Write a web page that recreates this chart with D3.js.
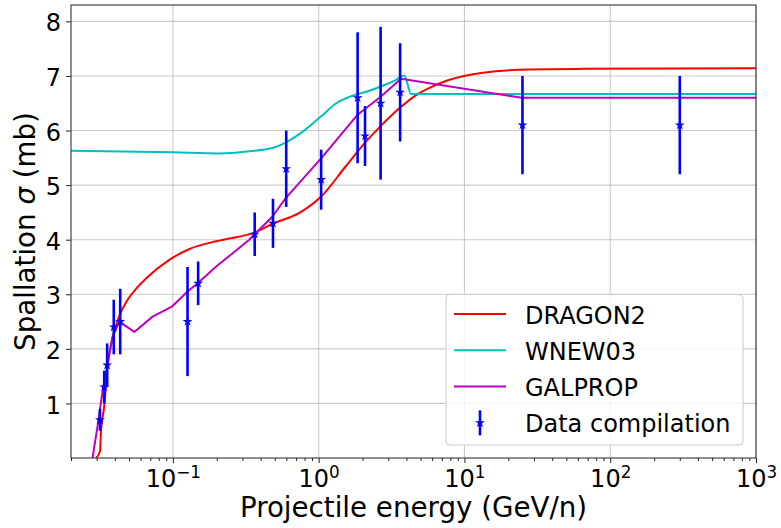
<!DOCTYPE html>
<html>
<head>
<meta charset="utf-8">
<script src="https://cdn.jsdelivr.net/npm/d3@7"></script>
<style>
  body { margin: 0; background: #fff; }
  svg { font-family: "DejaVu Sans", sans-serif; }
</style>
</head>
<body>
<svg id="chart" width="781" height="528"></svg>
<script>
"use strict";

// model curves (energy in GeV/n, sigma in mb)
var dragonE = [0.0297, 0.0316, 0.0321, 0.0338, 0.0356, 0.0386, 0.0424, 0.0489, 0.0572, 0.0654, 0.0945, 0.13, 0.198, 0.244, 0.362, 0.481, 0.737, 1.04, 1.54, 2.12, 2.66, 3.62, 4.66, 6.06, 7.89, 13.4, 27.9, 64.5, 1000];
var dragonS = [0, 0.12, 0.46, 0.95, 1.68, 2.2, 2.57, 2.9, 3.13, 3.29, 3.63, 3.83, 3.97, 4.02, 4.13, 4.29, 4.49, 4.79, 5.35, 5.80, 6.08, 6.42, 6.65, 6.81, 6.93, 7.06, 7.12, 7.13, 7.14];

var wnewE = [0.02, 0.1, 0.208, 0.334, 0.481, 0.594, 0.777, 1.04, 1.32, 1.71, 2.12, 2.75, 3.40, 3.87, 4.31, 1000];
var wnewS = [5.63, 5.60, 5.58, 5.62, 5.68, 5.78, 5.98, 6.26, 6.50, 6.64, 6.71, 6.82, 6.93, 7.01, 6.67, 6.67];

var galpropE = [0.0281, 0.0304, 0.0333, 0.0356, 0.0386, 0.0429, 0.0543, 0.0726, 0.099, 0.125, 0.152, 0.198, 0.257, 0.334, 0.481, 0.594, 1.04, 1.85, 2.66, 3.68, 24.7, 1000];
var galpropS = [0, 0.58, 1.31, 1.71, 2.23, 2.50, 2.31, 2.59, 2.78, 3.04, 3.23, 3.51, 3.75, 4.0, 4.42, 4.76, 5.49, 6.29, 6.62, 6.95, 6.60, 6.60];

// data compilation with symmetric errors
var dataE = [0.0316, 0.0338, 0.0354, 0.0393, 0.0435, 0.126, 0.149, 0.364, 0.486, 0.599, 1.04, 1.85, 2.08, 2.66, 3.62, 25, 300];
var dataS = [0.7, 1.3, 1.7, 2.4, 2.5, 2.5, 3.2, 4.1, 4.3, 5.3, 5.1, 6.6, 5.9, 6.5, 6.7, 6.1, 6.1];
var dataErr = [0.2, 0.3, 0.4, 0.5, 0.6, 1.0, 0.4, 0.4, 0.45, 0.7, 0.55, 1.2, 0.55, 1.4, 0.9, 0.9, 0.9];

var xMajor = [0.1, 1, 10, 100, 1000];
var xExp = ["\u22121", "0", "1", "2", "3"];
var yTicks = [1, 2, 3, 4, 5, 6, 7, 8];
var seriesNames = ["DRAGON2", "WNEW03", "GALPROP", "Data compilation"];
var seriesColors = ["#ff0000", "#00bfbf", "#bf00bf", "#0000ff"];

var svg = d3.select("#chart");
var mLeft = 71, mRight = 756, mTop = 5, mBottom = 458;

var x = d3.scaleLog().domain([0.02, 1000]).range([mLeft, mRight]);
var y = d3.scaleLinear().domain([0, 8.3]).range([mBottom, mTop]);

// minor ticks 2..9 of every decade inside the domain
var xMinor = [];
[0.01, 0.1, 1, 10, 100].forEach(function(d) {
    for (var k = 2; k <= 9; k++) {
        var v = d * k;
        if (v >= 0.02 && v <= 1000) xMinor.push(v);
    }
});

// grid
var grid = svg.append("g").attr("stroke", "#b0b0b0").attr("stroke-opacity", 0.65).attr("stroke-width", 1.1);
grid.selectAll(".gx").data(xMajor).enter().append("line")
    .attr("x1", d => x(d)).attr("x2", d => x(d)).attr("y1", mTop).attr("y2", mBottom);
grid.selectAll(".gy").data(yTicks).enter().append("line")
    .attr("x1", mLeft).attr("x2", mRight).attr("y1", d => y(d)).attr("y2", d => y(d));

svg.append("clipPath").attr("id", "plotClip").append("rect")
    .attr("x", mLeft).attr("y", mTop).attr("width", mRight - mLeft).attr("height", mBottom - mTop);

var plot = svg.append("g").attr("clip-path", "url(#plotClip)");

function drawCurve(es, ss, color, curve) {
    var line = d3.line().x(d => x(d[0])).y(d => y(d[1])).curve(curve);
    plot.append("path")
        .datum(d3.zip(es, ss))
        .attr("d", line)
        .attr("fill", "none")
        .attr("stroke", color)
        .attr("stroke-width", 2)
        .attr("stroke-linejoin", "round");
}

drawCurve(dragonE, dragonS, seriesColors[0], d3.curveMonotoneX);
drawCurve(wnewE, wnewS, seriesColors[1], d3.curveMonotoneX);
drawCurve(galpropE, galpropS, seriesColors[2], d3.curveLinear);

// error bars + star markers
var star = d3.symbol().type(d3.symbolStar).size(30);
var pts = plot.selectAll(".pt").data(d3.range(dataE.length)).enter().append("g");
pts.append("line")
    .attr("x1", i => x(dataE[i])).attr("x2", i => x(dataE[i]))
    .attr("y1", i => y(dataS[i] - dataErr[i])).attr("y2", i => y(dataS[i] + dataErr[i]))
    .attr("stroke", seriesColors[3]).attr("stroke-width", 2.6);
pts.append("path")
    .attr("d", star)
    .attr("transform", i => "translate(" + x(dataE[i]) + "," + y(dataS[i]) + ")")
    .attr("fill", seriesColors[3]);

// axes
var xAxis = svg.append("g").attr("transform", "translate(0," + mBottom + ")")
    .call(d3.axisBottom(x).tickValues(xMajor).tickSize(5).tickPadding(6).tickFormat(""));
svg.append("g").attr("transform", "translate(0," + mBottom + ")")
    .call(d3.axisBottom(x).tickValues(xMinor).tickSize(3).tickFormat(""))
    .call(g => g.select(".domain").remove());

xAxis.selectAll(".tick text").each(function(d, i) {
    var t = d3.select(this)
        .attr("y", 28.5).attr("dy", null)
        .attr("font-size", 24).attr("fill", "#000")
        .attr("font-family", "DejaVu Sans");
    t.append("tspan").text("10");
    t.append("tspan").attr("font-size", 16.8).attr("dy", -9).text(xExp[i]);
});

var yAxis = svg.append("g").attr("transform", "translate(" + mLeft + ",0)")
    .call(d3.axisLeft(y).tickValues(yTicks).tickSize(5).tickPadding(5));
yAxis.selectAll(".tick text")
    .attr("font-size", 24).attr("font-family", "DejaVu Sans")
    .attr("fill", "#000").attr("dy", "0.4em");

svg.selectAll(".domain").remove();
svg.selectAll(".tick line").attr("stroke", "#222").attr("stroke-width", 1);

// frame
svg.append("rect")
    .attr("x", mLeft).attr("y", mTop).attr("width", mRight - mLeft).attr("height", mBottom - mTop)
    .attr("fill", "none").attr("stroke", "#333").attr("stroke-width", 1.1);

// axis labels
svg.append("text")
    .attr("x", (mLeft + mRight) / 2).attr("y", 516.5)
    .attr("text-anchor", "middle").attr("font-size", 27.7)
    .text("Projectile energy (GeV/n)");

var yl = svg.append("text")
    .attr("transform", "translate(35," + ((mTop + mBottom) / 2) + ") rotate(-90)")
    .attr("text-anchor", "middle").attr("font-size", 27.7);
yl.append("tspan").text("Spallation ");
yl.append("tspan").attr("font-style", "italic").text("\u03c3");
yl.append("tspan").text(" (mb)");

// legend
var leg = svg.append("g");
leg.append("rect")
    .attr("x", 446).attr("y", 294.5).attr("width", 297).attr("height", 150.5)
    .attr("rx", 4).attr("fill", "#fff").attr("fill-opacity", 0.8)
    .attr("stroke", "#cccccc").attr("stroke-width", 1);

var rows = leg.selectAll(".row").data(seriesNames).enter().append("g")
    .attr("transform", (d, i) => "translate(0," + (314 + i * 36.3) + ")");
rows.filter((d, i) => i < 3).append("line")
    .attr("x1", 454).attr("x2", 506).attr("y1", 0).attr("y2", 0)
    .attr("stroke", (d, i) => seriesColors[i]).attr("stroke-width", 2);
var lastRow = rows.filter((d, i) => i === 3);
lastRow.append("line")
    .attr("x1", 480).attr("x2", 480).attr("y1", -12.5).attr("y2", 12.5)
    .attr("stroke", seriesColors[3]).attr("stroke-width", 2.6);
lastRow.append("path").attr("d", star).attr("transform", "translate(480,0)")
    .attr("fill", seriesColors[3]);
rows.append("text")
    .attr("x", 525).attr("y", 9.5)
    .attr("font-size", 24).attr("fill", "#000")
    .text(d => d);
</script>
</body>
</html>
